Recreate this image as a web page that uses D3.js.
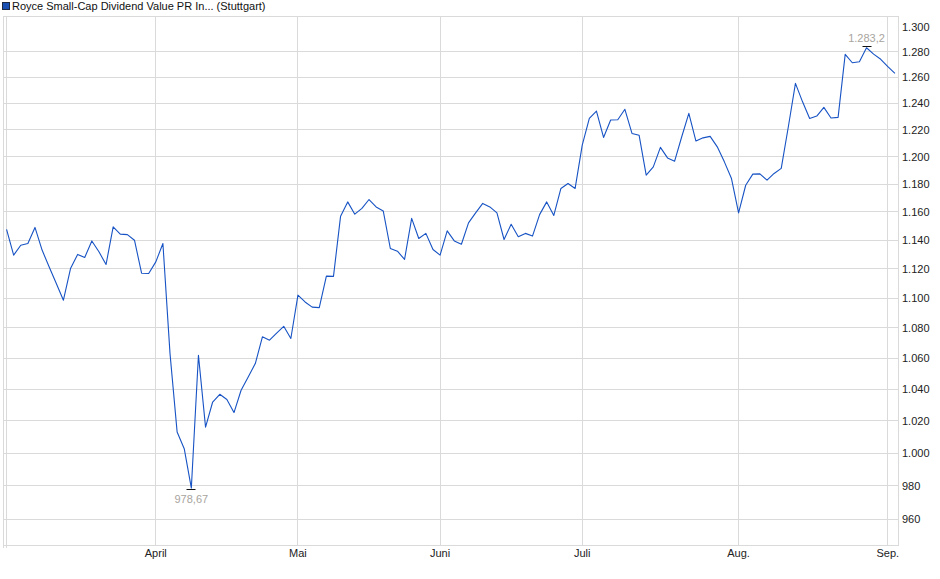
<!DOCTYPE html>
<html>
<head>
<meta charset="utf-8">
<script src="https://cdn.jsdelivr.net/npm/d3@7/dist/d3.min.js"></script>
<style>
    body { margin: 0; background: #fff; }
    svg { display: block; font-family: "Liberation Sans", Arial, sans-serif; }
</style>
</head>
<body>
<svg id="canvas" width="940" height="579"></svg>
<script>
var seriesName = 'Royce Small-Cap Dividend Value PR In... (Stuttgart)';

// daily closes, one per trading day (3 Mar -> 2 Sep)
var closes = [
    1147.5, 1129.5, 1136.4, 1137.6, 1148.9, 1133.0, 1121.3, 1110.0, 1098.6, 1120.2,
    1130.0, 1127.9, 1139.4, 1131.8, 1123.0, 1149.3, 1144.2, 1143.8, 1139.9, 1117.0,
    1116.8, 1124.8, 1137.6, 1063.1, 1013.0, 1002.7, 978.67, 1062.0, 1016.1, 1031.9,
    1036.8, 1033.5, 1025.2, 1039.4, 1047.9, 1056.6, 1074.1, 1071.9, 1076.5, 1081.1,
    1073.0, 1102.0, 1097.4, 1093.9, 1093.6, 1115.0, 1114.8, 1156.9, 1167.1, 1158.3,
    1162.4, 1168.8, 1163.5, 1160.6, 1134.1, 1132.2, 1126.5, 1155.3, 1141.1, 1144.7,
    1133.4, 1129.5, 1146.5, 1139.4, 1137.1, 1152.1, 1159.2, 1166.0, 1163.5, 1159.2,
    1140.4, 1151.1, 1142.3, 1144.7, 1142.8, 1158.0, 1167.1, 1157.4, 1176.8, 1180.4,
    1176.8, 1208.6, 1228.6, 1234.2, 1214.3, 1227.4, 1227.6, 1235.5, 1217.3, 1216.0,
    1186.5, 1192.5, 1206.9, 1199.1, 1196.7, 1214.8, 1232.4, 1211.6, 1214.0, 1215.1,
    1207.3, 1196.2, 1184.0, 1159.2, 1179.1, 1187.2, 1187.4, 1182.8, 1187.7, 1191.4,
    1222.3, 1255.4, 1241.2, 1228.6, 1230.4, 1237.0, 1228.9, 1229.4, 1278.0, 1271.4,
    1272.2, 1283.2, 1278.2, 1274.1, 1268.3, 1263.1
];

// first trading day of each month (index into closes)
var monthLabels = ['', 'April', 'Mai', 'Juni', 'Juli', 'Aug.', 'Sep.'];
var monthIndex = [0, 21, 41, 61, 81, 103, 124];

var yTicks = [960, 980, 1000, 1020, 1040, 1060, 1080, 1100, 1120, 1140,
    1160, 1180, 1200, 1220, 1240, 1260, 1280, 1300];

(function() {
    "use strict";

    var LEFT = 3, RIGHT = 898.5, TOP = 16, BOTTOM = 545;
    var GRID = '#dadada';
    var LINE = '#1753c4';

    var de = d3.formatLocale({ decimal: ',', thousands: '.', grouping: [3], currency: ['', ' €'] });
    var fmtTick = de.format(',d');

    var svg = d3.select('#canvas');

    var x = d3.scaleLinear().domain([-0.5, closes.length - 0.5]).range([LEFT, RIGHT]);
    var y = d3.scaleLog().domain([945, 1308.5]).range([BOTTOM, TOP]);

    function crisp(v) {
        return Math.floor(v) + 0.5;
    }

    // horizontal grid (top tick has no line, it sits right under the frame)
    svg.append('g').selectAll('line')
        .data(yTicks.filter(function(t) { return y(t) > TOP + 14; }))
        .enter().append('line')
        .attr('x1', LEFT).attr('x2', RIGHT)
        .attr('y1', function(t) { return crisp(y(t)); })
        .attr('y2', function(t) { return crisp(y(t)); })
        .attr('stroke', GRID).attr('stroke-width', 1);

    // vertical month grid
    svg.append('g').selectAll('line')
        .data(monthIndex)
        .enter().append('line')
        .attr('x1', function(i) { return crisp(x(i)); })
        .attr('x2', function(i) { return crisp(x(i)); })
        .attr('y1', TOP).attr('y2', function(i, k) { return k === 0 ? BOTTOM + 3 : BOTTOM; })
        .attr('stroke', GRID).attr('stroke-width', 1);

    // frame
    svg.append('rect')
        .attr('x', LEFT + 0.5).attr('y', TOP + 0.5)
        .attr('width', RIGHT - LEFT - 0.5).attr('height', BOTTOM - TOP)
        .attr('fill', 'none').attr('stroke', GRID).attr('stroke-width', 1);
    svg.append('line')
        .attr('x1', LEFT + 0.5).attr('x2', LEFT + 0.5)
        .attr('y1', BOTTOM).attr('y2', BOTTOM + 3)
        .attr('stroke', GRID);

    // y labels on the right
    svg.append('g').selectAll('text')
        .data(yTicks)
        .enter().append('text')
        .attr('x', 902)
        .attr('y', function(t) { return y(t); })
        .attr('dy', '0.36em')
        .attr('font-size', '11px')
        .attr('fill', '#222')
        .text(fmtTick);

    // month labels
    svg.append('g').selectAll('text')
        .data(monthIndex)
        .enter().append('text')
        .attr('x', function(i) { return x(i); })
        .attr('y', 557)
        .attr('text-anchor', 'middle')
        .attr('font-size', '11px')
        .attr('fill', '#222')
        .text(function(i, k) { return monthLabels[k]; });

    // price line
    var line = d3.line()
        .x(function(d, i) { return x(i); })
        .y(function(d) { return y(d); });

    svg.append('path')
        .datum(closes)
        .attr('d', line)
        .attr('fill', 'none')
        .attr('stroke', LINE)
        .attr('stroke-width', 1.1)
        .attr('stroke-linejoin', 'round');

    // min / max markers
    var minIdx = d3.minIndex(closes);
    var maxIdx = d3.maxIndex(closes);
    var markers = [
        { i: minIdx, v: closes[minIdx], off: 1.5, ty: 15, label: de.format(',.2f')(closes[minIdx]) },
        { i: maxIdx, v: closes[maxIdx], off: -1.5, ty: -6, label: de.format(',.1f')(closes[maxIdx]) }
    ];

    var mk = svg.append('g').selectAll('g')
        .data(markers)
        .enter().append('g');
    mk.append('line')
        .attr('x1', function(m) { return Math.round(x(m.i)) - 4.5; })
        .attr('x2', function(m) { return Math.round(x(m.i)) + 4.5; })
        .attr('y1', function(m) { return crisp(y(m.v) + m.off); })
        .attr('y2', function(m) { return crisp(y(m.v) + m.off); })
        .attr('stroke', '#111').attr('stroke-width', 1);
    mk.append('text')
        .attr('x', function(m) { return x(m.i); })
        .attr('y', function(m) { return y(m.v) + m.ty; })
        .attr('text-anchor', 'middle')
        .attr('font-size', '11px')
        .attr('fill', '#a8a49e')
        .text(function(m) { return m.label; });

    // legend
    svg.append('rect')
        .attr('x', 2.5).attr('y', 2.5)
        .attr('width', 7).attr('height', 7)
        .attr('fill', '#1a50b4').attr('stroke', '#1c2a44').attr('stroke-width', 1);
    svg.append('text')
        .attr('x', 12).attr('y', 10)
        .attr('font-size', '11px')
        .attr('fill', '#111')
        .text(seriesName);
})();
</script>
</body>
</html>
